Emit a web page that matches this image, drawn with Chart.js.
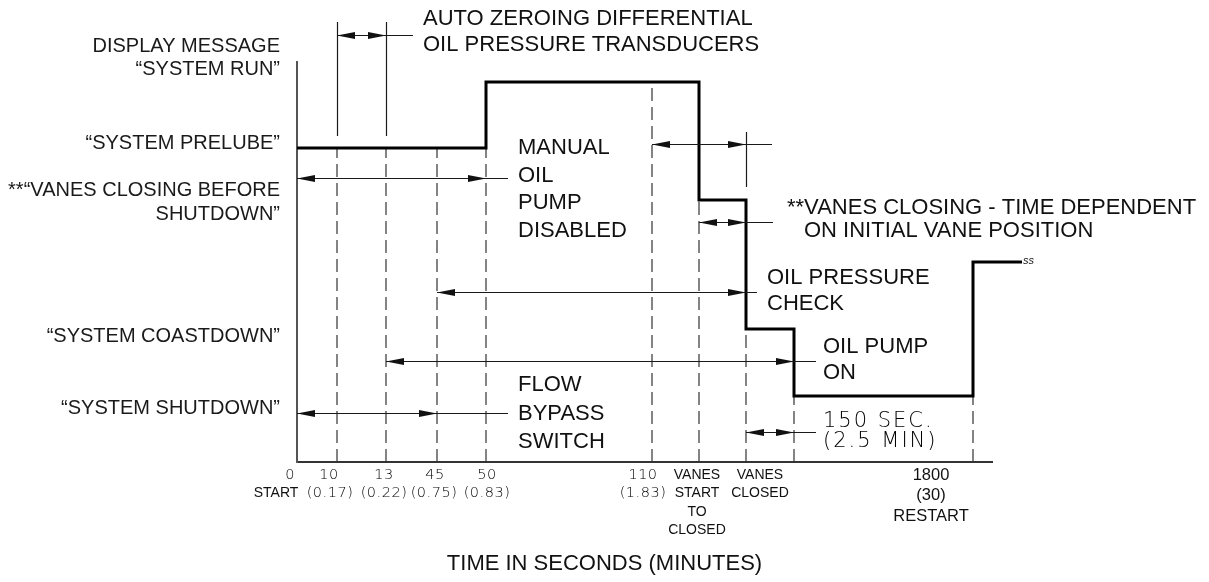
<!DOCTYPE html>
<html><head><meta charset="utf-8">
<script src="https://cdn.jsdelivr.net/npm/chart.js@4.4.1/dist/chart.umd.min.js"></script>
<style>html,body{margin:0;padding:0;background:#fff;overflow:hidden}canvas{display:block}</style>
</head><body><canvas id="c" width="1209" height="582"></canvas>
<script>
// ---- DATA ----
// events on the schematic (non-proportional) time axis
const eventNames = ['0', '10', '13', '45', '50', '110', 'VANES START TO CLOSED', 'VANES CLOSED', 'OIL PUMP OFF', '1800'];
const eventPos   = [0, 40, 89, 140, 189, 355, 402, 449, 497, 676];
const tickLabels = [['0','START'],['10','(0.17)'],['13','(0.22)'],['45','(0.75)'],['50','(0.83)'],['110','(1.83)'],
                    ['VANES','START','TO','CLOSED'],['VANES','CLOSED'],[],['1800','(30)','RESTART']];
// display-message step trace: change positions and the level after each change
const stepX = [0, 189, 402, 449, 497, 676, 725];
const stepY = [78.5, 95, 65.5, 33.25, 16.5, 50, 50];
// y-axis message labels
const yLabels = [['DISPLAY MESSAGE','“SYSTEM RUN”'],['“SYSTEM PRELUBE”'],['**“VANES CLOSING BEFORE','SHUTDOWN”'],['“SYSTEM COASTDOWN”'],['“SYSTEM SHUTDOWN”']];
const yLabelValues = [101, 79.75, 64.875, 31.5, 13.5];
const axisTitle = 'TIME IN SECONDS (MINUTES)';

// ---- ANNOTATIONS (geometry in scale units) ----
const dims = [
  {y:106.75, a:1, b:2, end:116},
  {y:79.5,  a:5, b:7, end:475},
  {y:60,    a:6, b:7, end:476},
  {y:71,    a:0, b:4, end:211},
  {y:42.5,  a:3, b:7, end:460},
  {y:25.25, a:2, b:8, end:519},
  {y:12.25, a:0, b:3, end:211},
  {y:7.5,   a:7, b:8, end:519}
];
const extLines = [{e:1, y1:81.5, y2:110}, {e:2, y1:81.5, y2:110}, {e:7, y1:68.75, y2:82.5}];
const notes = [
  {x:126, y:110.75, gap:26,   lines:['AUTO ZEROING DIFFERENTIAL','OIL PRESSURE TRANSDUCERS']},
  {x:221, y:78.5,   gap:27.7, lines:['MANUAL','OIL','PUMP','DISABLED']},
  {x:490, y:63.5,   gap:0,    lines:['**VANES CLOSING - TIME DEPENDENT']},
  {x:507, y:57.75,  gap:0,    lines:['ON INITIAL VANE POSITION']},
  {x:470, y:46,     gap:26,   lines:['OIL PRESSURE','CHECK']},
  {x:526, y:28.75,  gap:26,   lines:['OIL PUMP','ON']},
  {x:221, y:19.25,  gap:28.5, lines:['FLOW','BYPASS','SWITCH']},
  {x:526, y:10,     gap:20,   lines:['150 SEC.','(2.5 MIN)'], cad:true}
];
const tickOffsets = [[-7,-21], [-8,-7], [-2,-2], [-2,-3], [1,1], [-9,-9], [-2,-2,-2,-2], [14,14], [], [-42,-42,-42]];
const tickGap     = [18.5, 18.5, 18.5, 18.5, 18.5, 18.5, 18.5, 18.5, 0, 20.5];

const ARIAL = "'Liberation Sans', Arial, sans-serif";
const CAD = "'DejaVu Sans', sans-serif";

// dashed verticals: from axis up to the lower of the two levels at each event
function levelAt(p, side){
  let v = stepY[0];
  for (let i=0;i<stepX.length;i++){ if (side==='before' ? stepX[i] < p : stepX[i] <= p) v = stepY[i]; }
  return v;
}
const dashedSets = eventPos.slice(1).map(p => ({
  data:[{x:p,y:0},{x:p,y:Math.min(levelAt(p,'before'),levelAt(p,'after'))}],
  borderColor:'#333', borderWidth:1.2, borderDash:[13,6], pointRadius:0, fill:false, order:2
}));

const annot = {
  id:'annot',
  afterDatasetsDraw(chart){
    const {ctx, scales:{x, y}} = chart;
    const X = v => x.getPixelForValue(v), Y = v => y.getPixelForValue(v);
    ctx.save();
    ctx.strokeStyle = '#1a1a1a'; ctx.fillStyle = '#111'; ctx.lineWidth = 1.2;
    extLines.forEach(l => {
      const px = Math.round(X(eventPos[l.e])) + 0.5;
      ctx.beginPath(); ctx.moveTo(px, Y(l.y1)); ctx.lineTo(px, Y(l.y2)); ctx.stroke();
    });
    const head = (tx, yy, dir) => {
      ctx.beginPath(); ctx.moveTo(tx, yy); ctx.lineTo(tx - dir*18, yy - 3.6); ctx.lineTo(tx - dir*18, yy + 3.6); ctx.closePath(); ctx.fill();
    };
    dims.forEach(d => {
      const yy = Math.round(Y(d.y)) + 0.5, xa = X(eventPos[d.a]), xb = X(eventPos[d.b]);
      ctx.beginPath(); ctx.moveTo(xa, yy); ctx.lineTo(X(d.end), yy); ctx.stroke();
      head(xa, yy, -1); head(xb, yy, 1);
    });
    // notes
    ctx.textBaseline = 'middle'; ctx.textAlign = 'left';
    notes.forEach(n => {
      if (n.cad) { ctx.font = "200 21px " + CAD; ctx.letterSpacing = '2px'; ctx.fillStyle = '#000'; }
      else { ctx.font = "22px " + ARIAL; ctx.letterSpacing = '0px'; ctx.fillStyle = '#111'; }
      n.lines.forEach((t, i) => ctx.fillText(t, X(n.x), Y(n.y) + i*n.gap));
    });
    ctx.letterSpacing = '0px'; ctx.fillStyle = '#111';
    // break symbol at end of restart trace
    const last = stepX.length - 1;
    ctx.font = "italic 11px " + ARIAL;
    ctx.fillText('ss', X(stepX[last]) + 1, Y(stepY[last]) - 1);
    // x tick labels
    ctx.textAlign = 'center'; ctx.textBaseline = 'middle';
    const base = chart.chartArea.bottom + 13;
    tickLabels.forEach((lines, i) => {
      lines.forEach((t, j) => {
        const cx = X(eventPos[i]) + tickOffsets[i][j];
        if (i < 6 && !/[A-Z]/.test(t)) { ctx.font = "200 14.5px " + CAD; ctx.letterSpacing = '0.5px'; ctx.fillStyle = '#000'; }
        else if (i === 9) { ctx.font = "16.5px " + ARIAL; ctx.letterSpacing = '0px'; ctx.fillStyle = '#111'; }
        else { ctx.font = "14px " + ARIAL; ctx.letterSpacing = '0px'; ctx.fillStyle = '#111'; }
        ctx.fillText(t, cx, base + j*tickGap[i]);
      });
    });
    ctx.letterSpacing = '0px'; ctx.fillStyle = '#111';
    // axis title
    ctx.font = "22px " + ARIAL;
    ctx.fillText(axisTitle, chart.width/2, 564);
    ctx.restore();
  }
};

new Chart(document.getElementById('c'), {
  type:'line',
  data:{ datasets:[
    { label:'Display message', data: stepX.map((v,i)=>({x:v, y:stepY[i]})), stepped:true,
      borderColor:'#000', borderWidth:3, pointRadius:0, fill:false, clip:false, order:1 },
    ...dashedSets
  ]},
  options:{
    responsive:false, animation:false, devicePixelRatio:1,
    layout:{ padding:{ left:0, top:62, right:217, bottom:120 } },
    plugins:{ legend:{display:false}, tooltip:{enabled:false} },
    scales:{
      x:{ type:'linear', min:0, max:695,
          grid:{display:false, drawTicks:false}, ticks:{display:false},
          border:{display:true, color:'#333', width:2},
          afterFit(s){ s.height = 0; } },
      y:{ type:'linear', min:0, max:100,
          grid:{display:false, drawTicks:false},
          border:{display:true, color:'#555', width:2},
          afterBuildTicks(s){ s.ticks = yLabelValues.map(v=>({value:v})); },
          ticks:{ autoSkip:false, padding:17, color:'#1a1a1a',
                  font:{family:"'Liberation Sans', Arial, sans-serif", size:20, lineHeight:1.18},
                  callback:(v, i) => yLabels[i] },
          afterFit(s){ s.width = 297; } }
    }
  },
  plugins:[annot]
});
</script></body></html>
